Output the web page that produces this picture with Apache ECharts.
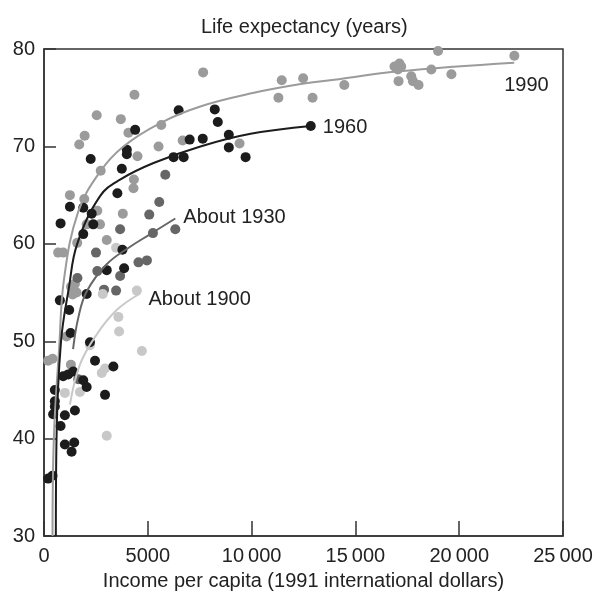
<!DOCTYPE html>
<html>
<head>
<meta charset="utf-8">
<script src="https://cdn.jsdelivr.net/npm/echarts@6/dist/echarts.min.js"></script>
<style>
html, body {margin:0; padding:0; background:#fff;}
#main {width:599px; height:596px;}
</style>
</head>
<body>
<div id="main"></div>
<script>
// income per capita (1991 intl $), life expectancy (years)
var pts_1990 = [
    [4357,75.3],[7665,77.6],[2539,73.2],[3700,72.8],[1958,71.1],[1698,70.2],[4066,71.4],
    [5648,72.2],[5518,70.0],[6680,70.6],[4503,69.0],[2732,67.5],[4330,66.6],[4310,65.7],
    [1248,65.0],[1939,64.6],[2568,63.4],[3796,63.1],[2055,62.0],[2698,62.0],[1601,60.1],
    [3022,60.4],[682,59.1],[924,59.1],[9420,70.3],[11292,75.0],[12936,75.0],[11452,76.8],
    [12482,77.0],[14465,76.3],[18981,79.8],[22657,79.3],[16882,78.2],[17124,78.5],[17207,78.2],
    [17047,77.9],[18657,77.9],[19625,77.4],[17078,76.7],[17690,77.2],[17772,76.7],[18043,76.3],
    [1300,55.6],[1490,55.9],[1570,55.0],[1380,54.8],[1088,50.5],[198,48.0],[411,48.2],[1296,47.6]
];
var pts_1960 = [
    [4391,71.7],[3990,69.65],[3990,69.2],[2249,68.7],[3748,67.7],[3535,65.2],[1248,63.8],
    [1891,63.7],[2297,63.1],[798,62.1],[2374,62.0],[1891,61.0],[3777,59.4],[3022,57.3],
    [3859,57.5],[2055,54.85],[764,54.2],[1214,53.2],[1282,50.85],[2215,49.9],[2457,48.0],
    [3342,47.4],[924,46.4],[1166,46.6],[1408,46.9],[1891,46.0],[2055,45.3],[522,45.0],
    [2940,44.5],[522,43.85],[522,43.3],[440,42.5],[1006,42.4],[1489,42.9],[798,41.3],
    [1006,39.4],[1456,39.6],[1330,38.65],[198,35.9],[411,36.2],[6485,73.7],[8226,73.8],
    [8371,72.5],[7017,70.7],[7646,70.8],[8903,71.2],[8903,69.9],[6243,68.9],[6727,68.9],
    [9711,68.9],[12850,72.1]
];
var pts_1930 = [
    [5070,63.0],[3666,61.5],[2505,59.1],[3666,56.7],[2568,57.2],[4551,58.1],[4957,58.3],
    [1610,56.5],[2892,55.3],[3472,55.2],[1650,46.1],[5842,67.1],[5552,64.3],[5247,61.1],
    [6325,61.5]
];
var pts_1900 = [
    [3472,59.6],[2829,54.85],[4473,55.2],[3584,52.5],[3617,51.0],[2215,49.6],[4715,49.0],
    [2781,46.75],[2940,47.2],[1006,44.7],[1731,44.8],[3022,40.3]
];

// fitted curves
var curve_1990 = [[411,30],[474,40],[730,49.3],[972,56.5],[1650,63.3],[2700,67.4],[3825,70.0],
    [5600,72.4],[7530,74.1],[10110,75.5],[12370,76.4],[14200,76.9],[17000,77.7],[22650,78.6]];
var curve_1960 = [[571,30],[603,40],[820,50],[1200,55.5],[1600,60],[2700,64.9],[3665,66.6],
    [5276,68.3],[7534,70.0],[9952,71.3],[12850,72.1]];
var curve_1930 = [[1400,49.2],[1650,52.4],[2055,55.1],[3020,57.9],[4150,59.7],[5120,61.0],[6325,62.6]];
var curve_1900 = [[1250,43.5],[1730,47.6],[2540,50.7],[3500,53.2],[4550,54.8]];

var xTickValues = [0, 5000, 10000, 15000, 20000, 25000];
var xTickLabels = ['0', '5000', '10\u2009000', '15\u2009000', '20\u2009000', '25\u2009000'];

var font = "'Liberation Sans', Arial, sans-serif";
var textColor = '#222';

function scatterSeries(data, color) {
    return {
        type: 'scatter',
        data: data,
        symbolSize: 10,
        itemStyle: {color: color, opacity: 1},
        z: 2
    };
}

function curveSeries(name, data, color, offset) {
    return {
        type: 'line',
        data: data,
        smooth: 0.4,
        showSymbol: false,
        lineStyle: {color: color, width: 2},
        endLabel: {
            show: true,
            formatter: name,
            offset: offset,
            color: textColor,
            fontSize: 20,
            fontFamily: font
        },
        z: 3
    };
}

var myChart = echarts.init(document.getElementById('main'));
myChart.setOption({
    animation: false,
    backgroundColor: '#fff',
    title: {
        text: 'Life expectancy (years)',
        left: 196,
        top: 12,
        textStyle: {fontSize: 20, fontWeight: 'normal', color: textColor, fontFamily: font}
    },
    grid: {
        left: 44, right: 36, top: 49, bottom: 58,
        show: true, borderColor: '#333', borderWidth: 1.5
    },
    xAxis: {
        type: 'value',
        min: 0, max: 25000, interval: 5000,
        name: 'Income per capita (1991 international dollars)',
        nameLocation: 'middle',
        nameGap: 33,
        nameTextStyle: {fontSize: 20, color: textColor, fontFamily: font},
        splitLine: {show: false},
        axisLine: {lineStyle: {color: '#333', width: 1.5}},
        axisTick: {inside: true, length: 15, lineStyle: {color: '#333', width: 1.5}},
        axisLabel: {
            fontSize: 20, color: textColor, fontFamily: font, margin: 10,
            formatter: function (v) {
                var i = xTickValues.indexOf(v);
                return i >= 0 ? xTickLabels[i] : '';
            }
        }
    },
    yAxis: {
        type: 'value',
        min: 30, max: 80, interval: 10,
        splitLine: {show: false},
        axisLine: {lineStyle: {color: '#333', width: 1.5}},
        axisTick: {inside: true, length: 12, lineStyle: {color: '#333', width: 1.5}},
        axisLabel: {fontSize: 20, color: textColor, fontFamily: font, margin: 9}
    },
    series: [
        scatterSeries(pts_1990, '#9b9b9b'),
        scatterSeries(pts_1930, '#666666'),
        scatterSeries(pts_1900, '#c8c8c8'),
        scatterSeries(pts_1960, '#1c1c1c'),
        curveSeries('1990', curve_1990, '#9b9b9b', [-18, 23]),
        curveSeries('1960', curve_1960, '#1c1c1c', [4, 2]),
        curveSeries('About 1930', curve_1930, '#666666', [0, -1]),
        curveSeries('About 1900', curve_1900, '#c8c8c8', [2, 5])
    ]
});
</script>
</body>
</html>
